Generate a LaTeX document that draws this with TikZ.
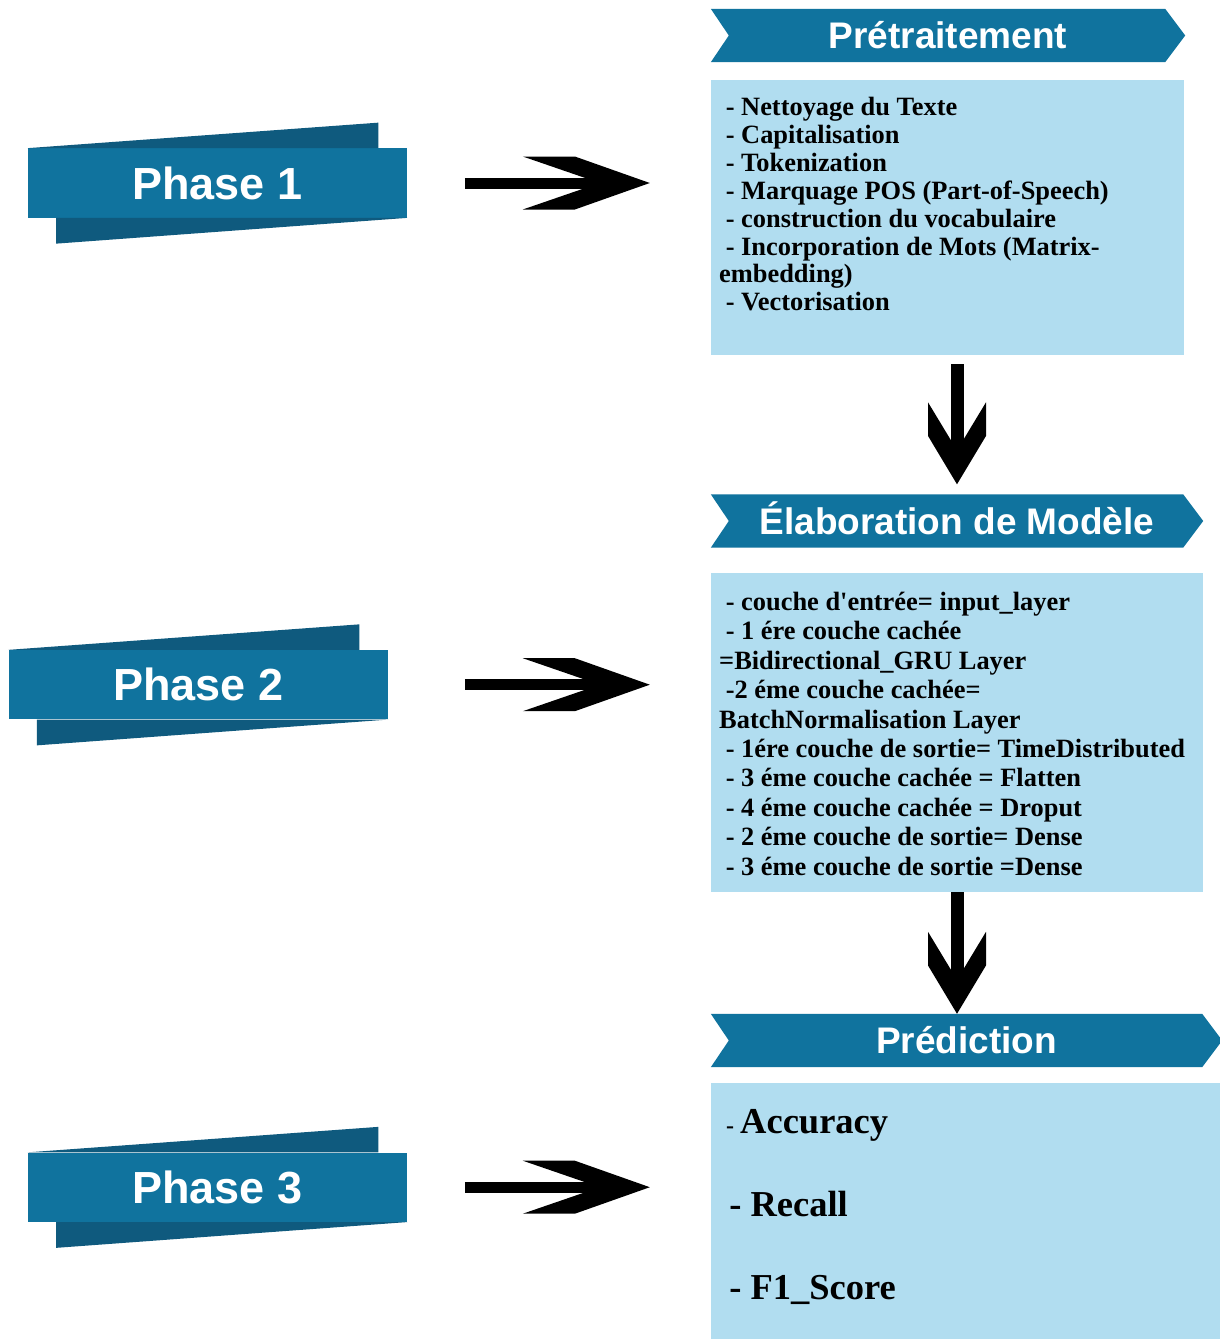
\documentclass[tikz,border=0pt]{standalone}
\usepackage{fontspec}
\setmainfont{Liberation Serif}
\newfontfamily\headfont{Liberation Sans}
\usetikzlibrary{arrows.meta,calc,backgrounds}

\definecolor{bandblue}{HTML}{10739E}
\definecolor{banddark}{HTML}{0F5A7E}
\definecolor{boxblue}{HTML}{B1DDF0}

% Block arrow head: flat shoulders, then a straight taper to the tip,
% with a notch at the back where the shaft enters.
\pgfdeclarearrow{
  name = Chevron,
  parameters = {\the\pgfarrowlength,\the\pgfarrowwidth,\the\pgfarrowinset},
  setup code = {
    \pgfmathsetlengthmacro\chevronlineend{\pgfarrowinset-\pgfarrowlength}
    \pgfarrowssettipend{0pt}
    \pgfarrowssetlineend{\chevronlineend}
    \pgfarrowssetbackend{-\pgfarrowlength}
    \pgfarrowssavethe\pgfarrowlength
    \pgfarrowssavethe\pgfarrowwidth
    \pgfarrowssavethe\pgfarrowinset
  },
  drawing code = {
    \pgfpathmoveto{\pgfpointorigin}
    \pgfpathlineto{\pgfpoint{-0.59*\pgfarrowlength}{0.5*\pgfarrowwidth}}
    \pgfpathlineto{\pgfpoint{-\pgfarrowlength}{0.5*\pgfarrowwidth}}
    \pgfpathlineto{\pgfpoint{\pgfarrowinset-\pgfarrowlength}{0pt}}
    \pgfpathlineto{\pgfpoint{-\pgfarrowlength}{-0.5*\pgfarrowwidth}}
    \pgfpathlineto{\pgfpoint{-0.59*\pgfarrowlength}{-0.5*\pgfarrowwidth}}
    \pgfpathclose
    \pgfusepathqfill
  },
  defaults = {length=127pt, width=53pt, inset=77pt}
}

\newcommand\itemlead{\hspace*{0.25em}}

\tikzset{
  phase/.style={fill=bandblue, minimum width=379.5pt, minimum height=69.3pt,
    inner sep=0pt, text=white, text height=32pt, text depth=0pt,
    font=\headfont\bfseries\fontsize{45}{45}\selectfont},
  header/.style={minimum height=53pt, inner sep=0pt, text=white,
    text height=26.5pt, text depth=0pt,
    font=\headfont\bfseries\fontsize{37}{37}\selectfont},
  panel/.style={fill=boxblue, inner sep=0pt},
  paneltext/.style={inner sep=0pt, align=left, anchor=north west},
  rarrow/.style={black, line width=11pt, -{Chevron[length=127pt,width=53pt,inset=77pt]}},
  darrow/.style={black, line width=13pt, -{Chevron[length=82pt,width=58pt,inset=48pt]}},
}

\begin{document}
\begin{tikzpicture}[x=1pt, y=-1pt]
\useasboundingbox (0,0) rectangle (1220,1339);

% phase banners
\node[phase] (ph1) at (217.5,183) {Phase 1};
\node[phase] (ph2) at (198.3,684.7) {Phase 2};
\node[phase] (ph3) at (217.5,1187.2) {Phase 3};
\foreach \n in {ph1,ph2,ph3}{
  \fill[banddark] (\n.north west) -- ($(\n.north east)+(-29,-25.5)$)
    -- ($(\n.north east)+(-29,0)$) -- cycle;
  \fill[banddark] ($(\n.south west)+(28.5,0)$) -- ($(\n.south west)+(28.5,25.8)$)
    -- (\n.south east) -- cycle;
}

% step headers
\node[header, minimum width=474pt] (h1) at (948,35.5) {Prétraitement};
\node[header, minimum width=492pt] (h2) at (957,521) {Élaboration de Modèle};
\node[header, minimum width=511pt] (h3) at (966.5,1040.5) {Prédiction};

% detail panels
\node[panel, minimum width=473pt, minimum height=275pt] (box1) at (947.5,217.5) {};
\node[panel, minimum width=492pt, minimum height=319pt] (box2) at (957,732.5) {};
\node[panel, minimum width=513pt, minimum height=262pt] (box3) at (967.5,1214) {};

\begin{scope}[on background layer]
  \fill[white] (0,0) rectangle (1220,1339);
  \foreach \n in {h1,h2,h3}{
    \fill[bandblue] (\n.north west) -- ($(\n.north east)+(-20,0)$) -- (\n.east)
      -- ($(\n.south east)+(-20,0)$) -- (\n.south west) -- ($(\n.west)+(18,0)$) -- cycle;
  }
\end{scope}

\node[paneltext, font=\bfseries\fontsize{26.4}{27.9}\selectfont] (t1) at (719,97) {%
\itemlead- Nettoyage du Texte\\
\itemlead- Capitalisation\\
\itemlead- Tokenization\\
\itemlead- Marquage POS (Part-of-Speech)\\
\itemlead- construction du vocabulaire\\
\itemlead- Incorporation de Mots (Matrix-\\
embedding)\\
\itemlead- Vectorisation};

\node[paneltext, font=\bfseries\fontsize{26.4}{29.4}\selectfont] (t2) at (719,592) {%
\itemlead- couche d\textquotesingle entrée= input\_layer\\
\itemlead- 1 ére couche cachée\\
=Bidirectional\_GRU Layer\\
\itemlead-2 éme couche cachée=\\
BatchNormalisation Layer\\
\itemlead- 1ére couche de sortie= TimeDistributed\\
\itemlead- 3 éme couche cachée = Flatten\\
\itemlead- 4 éme couche cachée = Droput\\
\itemlead- 2 éme couche de sortie= Dense\\
\itemlead- 3 éme couche de sortie =Dense};

\node[paneltext, font=\bfseries\fontsize{36.5}{83}\selectfont] (t3) at (720,1109) {%
{\fontsize{24}{24}\selectfont\itemlead- }Accuracy\\
\itemlead- Recall\\
\itemlead- F1\_Score};

% connectors
\draw[rarrow] ($(ph1.east -| box1.west)+(-246,0)$) -- ($(ph1.east -| box1.west)+(-61,0)$);
\draw[rarrow] ($(ph2.east -| box2.west)+(-246,0)$) -- ($(ph2.east -| box2.west)+(-61,0)$);
\draw[rarrow] ($(ph3.east -| box3.west)+(-246,0)$) -- ($(ph3.east -| box3.west)+(-61,0)$);
\draw[darrow] ($(box1.south -| h2.north)+(0,9)$) -- ($(h2.north)+(0,-10)$);
\draw[darrow] (box2.south) -- (box2.south |- h3.north);
\end{tikzpicture}
\end{document}
